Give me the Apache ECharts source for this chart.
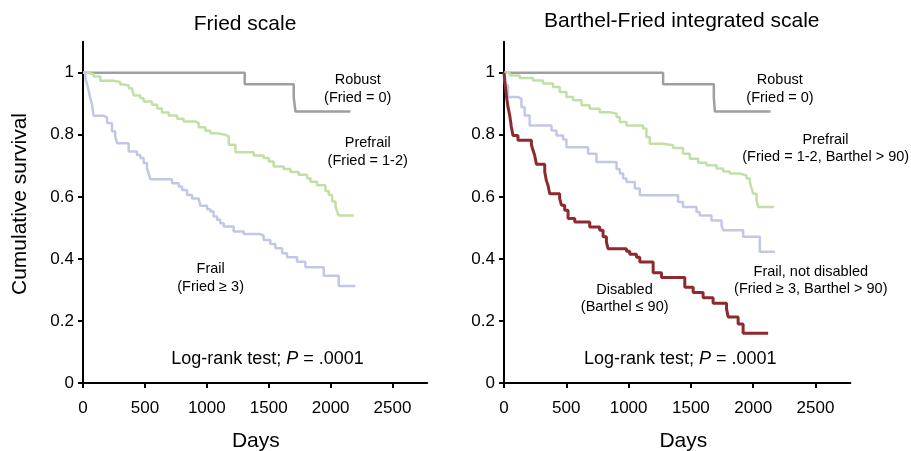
<!DOCTYPE html>
<html>
<head>
<meta charset="utf-8">
<script src="https://cdn.jsdelivr.net/npm/echarts@6/dist/echarts.min.js"></script>
<style>
html,body{margin:0;padding:0;background:#fff;}
#chart{width:911px;height:451px;}
</style>
</head>
<body>
<div id="chart"></div>
<script>
// ---------- Data ----------
var xTicks = [0, 500, 1000, 1500, 2000, 2500];
var yTicks = [0, 0.2, 0.4, 0.6, 0.8, 1];

// Left panel: Fried scale
var friedRobustT = [0, 1306, 1702, 1716, 2160];
var friedRobustS = [1, 0.963, 0.92, 0.875, 0.875];

var friedPrefrailT = [0, 40, 86, 140, 247, 300, 328, 370, 396, 409, 463, 490, 557, 600, 638, 692, 760, 813, 907, 934, 988, 1029, 1083, 1150, 1177, 1231, 1379, 1459, 1500, 1540, 1621, 1675, 1742, 1810, 1837, 1891, 1958, 1985, 2012, 2040, 2052, 2065, 2187];
var friedPrefrailS = [1, 0.995, 0.988, 0.974, 0.970, 0.962, 0.959, 0.950, 0.945, 0.927, 0.918, 0.907, 0.897, 0.885, 0.872, 0.862, 0.852, 0.843, 0.838, 0.824, 0.813, 0.805, 0.800, 0.795, 0.768, 0.744, 0.733, 0.725, 0.714, 0.698, 0.690, 0.680, 0.671, 0.660, 0.649, 0.637, 0.619, 0.606, 0.585, 0.569, 0.553, 0.540, 0.540];

var friedFrailT = [0, 20, 35, 50, 59, 73, 86, 167, 194, 234, 260, 275, 369, 436, 463, 490, 517, 530, 544, 719, 773, 800, 840, 881, 934, 948, 1002, 1029, 1055, 1083, 1109, 1136, 1217, 1298, 1432, 1459, 1513, 1554, 1608, 1648, 1729, 1796, 1944, 2065, 2200];
var friedFrailS = [1, 0.98, 0.961, 0.934, 0.918, 0.897, 0.861, 0.855, 0.838, 0.811, 0.795, 0.773, 0.746, 0.735, 0.725, 0.709, 0.692, 0.676, 0.657, 0.644, 0.633, 0.622, 0.606, 0.595, 0.590, 0.571, 0.560, 0.553, 0.537, 0.526, 0.515, 0.504, 0.488, 0.480, 0.475, 0.461, 0.448, 0.434, 0.418, 0.405, 0.391, 0.373, 0.346, 0.313, 0.313];

// Right panel: Barthel-Fried integrated scale
var bfRobustT = [0, 1277, 1684, 1692, 2139];
var bfRobustS = [1, 0.963, 0.92, 0.875, 0.875];

var bfPrefrailT = [0, 46, 126, 233, 313, 393, 447, 501, 554, 622, 688, 768, 849, 903, 929, 983, 1116, 1143, 1170, 1277, 1357, 1437, 1491, 1558, 1625, 1706, 1759, 1812, 1893, 1946, 1973, 1985, 2000, 2027, 2040, 2166];
var bfPrefrailS = [1, 0.991, 0.983, 0.975, 0.965, 0.954, 0.938, 0.922, 0.911, 0.895, 0.884, 0.873, 0.868, 0.857, 0.841, 0.830, 0.820, 0.793, 0.771, 0.766, 0.757, 0.739, 0.723, 0.710, 0.702, 0.691, 0.682, 0.675, 0.669, 0.659, 0.648, 0.630, 0.610, 0.589, 0.567, 0.567];

var bfFrailT = [0, 10, 32, 112, 140, 166, 206, 381, 421, 474, 501, 675, 742, 903, 929, 956, 983, 1050, 1090, 1397, 1437, 1545, 1571, 1665, 1746, 1759, 1919, 2053, 2174];
var bfFrailS = [1, 0.96, 0.922, 0.916, 0.889, 0.862, 0.830, 0.814, 0.798, 0.785, 0.760, 0.739, 0.712, 0.690, 0.675, 0.659, 0.648, 0.627, 0.605, 0.583, 0.567, 0.551, 0.540, 0.524, 0.508, 0.492, 0.471, 0.423, 0.423];

var bfDisabledT = [0, 10, 19, 32, 46, 59, 72, 112, 220, 233, 246, 260, 327, 340, 353, 367, 447, 461, 487, 514, 568, 688, 768, 795, 822, 835, 983, 1009, 1063, 1090, 1197, 1264, 1451, 1518, 1598, 1678, 1786, 1799, 1879, 1919, 2120];
var bfDisabledS = [1, 0.96, 0.927, 0.89, 0.862, 0.825, 0.798, 0.782, 0.768, 0.750, 0.734, 0.705, 0.680, 0.653, 0.637, 0.610, 0.594, 0.573, 0.557, 0.530, 0.519, 0.503, 0.492, 0.471, 0.454, 0.433, 0.425, 0.415, 0.405, 0.390, 0.355, 0.340, 0.309, 0.292, 0.275, 0.257, 0.238, 0.213, 0.190, 0.160, 0.160];

// ---------- Build ----------
function pairs(t, s) { return t.map(function (v, i) { return [v, s[i]]; }); }

var FONT = '"Liberation Sans", Arial, Helvetica, sans-serif';
var C_ROBUST = '#9f9f9f', C_PRE = '#c2e0a6', C_FRAIL = '#c3c7e7', C_DIS = '#8c2a2e';

function xAxisCfg(idx) {
  return {
    gridIndex: idx, type: 'value', min: 0, max: 2780,
    axisLine: { show: true, onZero: false, lineStyle: { color: '#000', width: 2 } },
    axisTick: { show: true, length: 5, lineStyle: { color: '#000', width: 2 }, customValues: xTicks },
    axisLabel: { color: '#000', fontSize: 17, fontFamily: FONT, margin: 17, customValues: xTicks,
      formatter: function (v) { return String(v); } },
    splitLine: { show: false }
  };
}
function yAxisCfg(idx) {
  return {
    gridIndex: idx, type: 'value', min: 0, max: 1.1,
    axisLine: { show: true, onZero: false, lineStyle: { color: '#000', width: 2 } },
    axisTick: { show: true, length: 5, lineStyle: { color: '#000', width: 2 }, customValues: yTicks },
    axisLabel: { color: '#000', fontSize: 17, fontFamily: FONT, margin: 9, customValues: yTicks,
      formatter: function (v) { return (v === 0 || v === 1) ? String(v) : v.toFixed(1); } },
    splitLine: { show: false }
  };
}
function line(name, xi, t, s, color, w) {
  return {
    name: name, type: 'line', xAxisIndex: xi, yAxisIndex: xi, step: 'end',
    showSymbol: false, symbol: 'none', data: pairs(t, s), animation: false,
    lineStyle: { color: color, width: w }, z: 3
  };
}
function txt(str, x, y, size, extra) {
  var o = { type: 'text', x: x, y: y, silent: true,
    style: { text: str, font: size + 'px ' + FONT, fill: '#000', align: 'center', verticalAlign: 'middle' } };
  if (extra) { for (var k in extra) o[k] = extra[k]; }
  return o;
}
function logRank(x, y) {
  return { type: 'text', x: x, y: y, silent: true,
    style: { text: '{n|Log-rank test; }{i|P}{n| = .0001}', align: 'center', verticalAlign: 'middle',
      rich: { n: { fontSize: 18, fontFamily: FONT, fill: '#000', color: '#000' },
              i: { fontSize: 18, fontFamily: FONT, fontStyle: 'italic', fill: '#000', color: '#000' } } } };
}

var chart = echarts.init(document.getElementById('chart'), null, { renderer: 'canvas' });
chart.setOption({
  backgroundColor: '#fff',
  animation: false,
  grid: [
    { left: 83, top: 41.7, width: 344.2, height: 341.3, containLabel: false },
    { left: 504, top: 41.7, width: 346.4, height: 341.3, containLabel: false }
  ],
  xAxis: [xAxisCfg(0), xAxisCfg(1)],
  yAxis: [yAxisCfg(0), yAxisCfg(1)],
  series: [
    line('Robust', 0, friedRobustT, friedRobustS, C_ROBUST, 2.5),
    line('Prefrail', 0, friedPrefrailT, friedPrefrailS, C_PRE, 2.5),
    line('Frail', 0, friedFrailT, friedFrailS, C_FRAIL, 2.5),
    line('Robust', 1, bfRobustT, bfRobustS, C_ROBUST, 2.5),
    line('Prefrail', 1, bfPrefrailT, bfPrefrailS, C_PRE, 2.5),
    line('Frail, not disabled', 1, bfFrailT, bfFrailS, C_FRAIL, 2.5),
    line('Disabled', 1, bfDisabledT, bfDisabledS, C_DIS, 3)
  ],
  graphic: [
    txt('Fried scale', 245, 24, 21),
    txt('Barthel-Fried integrated scale', 681.8, 21.5, 21),
    txt('Cumulative survival', 20, 204, 21, { rotation: Math.PI / 2 }),
    txt('Days', 255.8, 441.5, 21),
    txt('Days', 683.3, 441.5, 21),
    txt('Robust', 357.7, 80, 14.5),
    txt('(Fried = 0)', 357.7, 97.7, 14.5),
    txt('Prefrail', 367.7, 142.7, 14.5),
    txt('(Fried = 1-2)', 367.7, 161, 14.5),
    txt('Frail', 210.7, 269.3, 14.5),
    txt('(Fried \u2265 3)', 210.6, 286.7, 14.5),
    logRank(267.5, 359.3),
    txt('Robust', 779.8, 80, 14.5),
    txt('(Fried = 0)', 780, 97.7, 14.5),
    txt('Prefrail', 825.5, 140, 14.5),
    txt('(Fried = 1-2, Barthel > 90)', 825.7, 156.7, 14.5),
    txt('Frail, not disabled', 810.8, 271.7, 14.5),
    txt('(Fried \u2265 3, Barthel > 90)', 810.8, 288.7, 14.5),
    txt('Disabled', 624.5, 290, 14.5),
    txt('(Barthel \u2264 90)', 624.7, 307.3, 14.5),
    logRank(680.3, 359.3)
  ]
});
</script>
</body>
</html>
